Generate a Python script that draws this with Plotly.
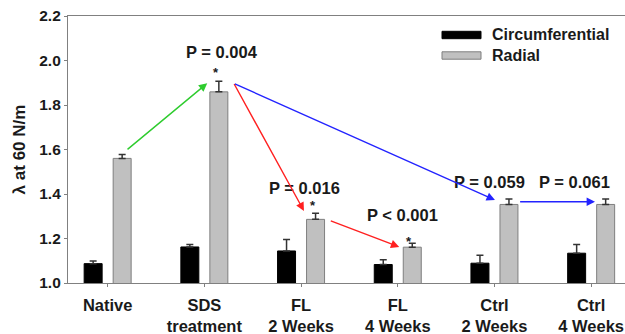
import plotly.graph_objects as go

# ---- data ----
categories = ["Native", "SDS<br>treatment", "FL<br>2 Weeks", "FL<br>4 Weeks", "Ctrl<br>2 Weeks", "Ctrl<br>4 Weeks"]
circumferential = [1.087, 1.162, 1.144, 1.083, 1.089, 1.134]
circumferential_err = [0.012, 0.011, 0.051, 0.021, 0.036, 0.039]
radial = [1.560, 1.859, 1.286, 1.161, 1.353, 1.353]
radial_err = [0.018, 0.048, 0.027, 0.018, 0.024, 0.024]
p_labels = ["P = 0.004", "P = 0.016", "P < 0.001", "P = 0.059", "P = 0.061"]
p_label_cats = [1, 2, 3, 4, 5]
star_cats = [1, 2, 3]
# arrows: (from category, to category, colour)
arrows = [(0, 1, "#2ecc2e"), (1, 2, "#ff2020"), (1, 4, "#2323ff"), (2, 3, "#ff2020"), (4, 5, "#2323ff")]
y_ticks = [1.0, 1.2, 1.4, 1.6, 1.8, 2.0, 2.2]

FONT = "Liberation Sans, Arial, sans-serif"
W, H = 625, 334
ML, MR, MT, MB = 68, 0, 16, 51
BW = 0.186
OFF = 0.15

x = list(range(len(categories)))
fig = go.Figure()
fig.add_trace(go.Bar(
    x=x, y=circumferential, base=0, width=BW, offset=-OFF - BW / 2,
    marker=dict(color="#000000", line=dict(color="#000000", width=1)),
    error_y=dict(type="data", array=circumferential_err, arrayminus=[0] * len(x),
                 symmetric=False, color="#333333", thickness=1.5, width=3.5),
    name="Circumferential", showlegend=False,
))
fig.add_trace(go.Bar(
    x=x, y=radial, base=0, width=BW, offset=OFF - BW / 2,
    marker=dict(color="#c0c0c0", line=dict(color="#7f7f7f", width=1)),
    error_y=dict(type="data", array=radial_err, arrayminus=[0] * len(x),
                 symmetric=False, color="#333333", thickness=1.5, width=3.5),
    name="Radial", showlegend=False,
))

tops = [r + e for r, e in zip(radial, radial_err)]
ann = []

# p-value labels (offsets relative to the bar group)
p_dx = [0.187, 0.035, 0.045, -0.05, -0.175]
p_dy = [0.133, 0.114, 0.126, 0.078, 0.078]
for lab, c, dx, dy in zip(p_labels, p_label_cats, p_dx, p_dy):
    ann.append(dict(x=c + dx, y=tops[c] + dy, xref="x", yref="y", text=lab, showarrow=False,
                    font=dict(family=FONT, size=16.5, color="#1a1a1a", weight="bold"),
                    xanchor="center", yanchor="middle"))
# asterisks
star_dy = [0.052, 0.047, 0.022]
for c, dy in zip(star_cats, star_dy):
    ann.append(dict(x=c + OFF - 0.03, y=tops[c] + dy, xref="x", yref="y", text="*", showarrow=False,
                    font=dict(family=FONT, size=13, color="#1a1a1a", weight="bold"),
                    xanchor="center", yanchor="middle", yshift=-3))
# arrows
arrow_geom = [
    (0.04, 0.017, -0.12, -0.009),
    (0.15, -0.006, -0.12, 0.011),
    (0.15, -0.009, -0.145, -0.004),
    (0.142, -0.031, -0.135, -0.017),
    (0.10, -0.012, -0.11, -0.012),
]
for (a, b, col), (tdx, tdy, hdx, hdy) in zip(arrows, arrow_geom):
    ann.append(dict(x=b + OFF + hdx, y=tops[b] + hdy, ax=a + OFF + tdx, ay=tops[a] + tdy,
                    xref="x", yref="y", axref="x", ayref="y", text="", showarrow=True,
                    arrowhead=2, arrowsize=1.2, arrowwidth=1.4, arrowcolor=col))

# custom legend
def px_x(p):
    return (p - ML) / (W - ML - MR)

def px_y(p):
    return (H - MB - p) / (H - MT - MB)

shapes = []
leg_items = [("Circumferential", "#000000", "#000000", 35), ("Radial", "#c0c0c0", "#7f7f7f", 55.5)]
for name, fill, line, yc in leg_items:
    shapes.append(dict(type="rect", xref="paper", yref="paper", x0=px_x(442), x1=px_x(481),
                       y0=px_y(yc + 3.7), y1=px_y(yc - 3.7), fillcolor=fill,
                       line=dict(color=line, width=1)))
    ann.append(dict(x=px_x(490), y=px_y(yc), xref="paper", yref="paper", text=name, showarrow=False,
                    xanchor="left", yanchor="middle",
                    font=dict(family=FONT, size=16, color="#1a1a1a", weight="bold")))

fig.update_layout(
    width=W, height=H, margin=dict(l=ML, r=MR, t=MT, b=MB, autoexpand=False),
    paper_bgcolor="white", plot_bgcolor="white",
    barmode="overlay", annotations=ann, shapes=shapes, showlegend=False,
    font=dict(family=FONT, color="#1a1a1a"),
)
fig.update_xaxes(
    range=[-0.41, 5.35], tickvals=x, ticktext=categories, showgrid=False, zeroline=False,
    showline=True, linecolor="#808080", linewidth=1.2, mirror=True, automargin=False,
    ticks="outside", ticklen=3, tickcolor="#808080", ticklabelstandoff=4,
    tickfont=dict(family=FONT, size=16.5, color="#1a1a1a", weight="bold"),
)
fig.update_yaxes(
    range=[1.0, 2.2], tickvals=y_ticks, tickformat=".1f", showgrid=False, zeroline=False,
    showline=True, linecolor="#808080", linewidth=1.2, automargin=False,
    ticks="outside", ticklen=3, tickcolor="#808080",
    tickfont=dict(family=FONT, size=15.5, color="#1a1a1a", weight="bold"),
    title=dict(text="λ at 60 N/m", standoff=9,
               font=dict(family=FONT, size=17, color="#1a1a1a", weight="bold")),
)

fig.write_html("out.html")
